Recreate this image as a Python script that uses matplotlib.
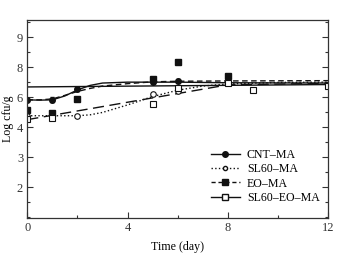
import matplotlib
matplotlib.use("Agg")
import matplotlib.pyplot as plt
from matplotlib.ticker import MultipleLocator

plt.rcParams['font.family'] = ['Liberation Serif', 'DejaVu Serif']

# Measured points (y in axis position units; tick labels below)
days = [0, 1, 2, 5, 6]
cnt_y = [4.93, 4.92, 5.27, 5.52, 5.54]
cnt_err = [0.06, 0.08, 0.04, 0.05, 0.06]

eo_days = [0, 1, 2, 5, 6, 8]
eo_y = [4.58, 4.47, 4.94, 5.61, 6.17, 5.73]

sl_days = [0, 1, 2, 5, 6]
sl_y = [4.39, 4.35, 4.38, 5.10, 5.22]

sleo_days = [0, 1, 5, 6, 8, 9, 12]
sleo_y = [4.28, 4.33, 4.78, 5.33, 5.47, 5.24, 5.38]

# Fitted curves
cnt_fit_x = [0, 0.5, 1, 1.5, 2, 2.5, 3, 4, 6, 8, 12]
cnt_fit_y = [4.92, 4.91, 4.92, 5.05, 5.25, 5.40, 5.48, 5.51, 5.51, 5.49, 5.48]

eo_fit_x = [0, 0.5, 1, 1.5, 2, 2.5, 3, 4, 5, 6, 8, 12]
eo_fit_y = [4.92, 4.92, 4.95, 5.07, 5.20, 5.30, 5.38, 5.46, 5.52, 5.54, 5.55, 5.56]

flat_x = [0, 12]
flat_y = [5.35, 5.43]

sl_fit_x = [0, 1, 2, 2.5, 3, 4, 5, 6, 7, 8, 10, 12]
sl_fit_y = [4.39, 4.39, 4.39, 4.42, 4.50, 4.75, 5.03, 5.24, 5.38, 5.45, 5.50, 5.51]

sleo_fit_x = [0, 8, 12]
sleo_fit_y = [4.26, 5.42, 5.47]

ytick_pos = [2, 3, 4, 5, 6, 7]
ytick_labels = ['2', '3', '4', '6', '8', '9']
xticks = [0, 4, 8, 12]

fig = plt.figure(figsize=(3.44, 2.54), dpi=100)
ax = fig.add_axes([0.0794, 0.1417, 0.8741, 0.7793])

c = '#111111'
# fit lines
ax.plot(flat_x, flat_y, '-', color=c, lw=1.0)
ax.plot(cnt_fit_x, cnt_fit_y, '-', color=c, lw=1.0)
ax.plot(eo_fit_x, eo_fit_y, '--', color=c, lw=1.0, dashes=(4, 2.5))
ax.plot(sl_fit_x, sl_fit_y, ':', color=c, lw=1.0)
ax.plot(sleo_fit_x, sleo_fit_y, '-', color=c, lw=1.0, dashes=(8, 4))

# markers
ax.errorbar(days, cnt_y, yerr=cnt_err, fmt='o', color=c, ms=4, capsize=1.5, elinewidth=0.8)
ax.plot(eo_days, eo_y, 's', color=c, ms=4)
ax.plot(sl_days, sl_y, 'o', mfc='white', mec=c, ms=4, mew=0.8)
ax.plot(sleo_days, sleo_y, 's', mfc='white', mec=c, ms=4, mew=0.8)

# legend handles
h1, = ax.plot([], [], '-o', color=c, ms=4, lw=1.0)
h2, = ax.plot([], [], ':o', color=c, mfc='white', ms=3, lw=1.0)
h3, = ax.plot([], [], '--s', color=c, ms=4, lw=1.0, dashes=(3, 2))
h4, = ax.plot([], [], '-s', color=c, mfc='white', ms=4, lw=1.0)
ax.legend([h1, h2, h3, h4], ['CNT–MA', 'SL60–MA', 'EO–MA', 'SL60–EO–MA'],
          loc='lower right', bbox_to_anchor=(1.0, 0.03), frameon=False,
          fontsize=8.6, handlelength=2.4, handletextpad=0.6, labelspacing=0.18,
          borderaxespad=0.3)

ax.set_xlim(0, 12)
ax.set_ylim(0.98, 7.58)
ax.set_xticks(xticks)
ax.set_xticklabels([str(v) for v in xticks])
ax.xaxis.set_minor_locator(MultipleLocator(2))
ax.set_yticks(ytick_pos)
ax.set_yticklabels(ytick_labels)
ax.yaxis.set_minor_locator(MultipleLocator(0.5))
ax.tick_params(which='both', direction='in', right=True, top=False, labelsize=9, pad=3, colors='#333333')
ax.tick_params(which='major', length=4, width=0.8)
ax.tick_params(which='minor', length=2.5, width=0.8)
for s in ax.spines.values():
    s.set_linewidth(0.9)
    s.set_color('#333333')

ax.set_xlabel('Time (day)', fontsize=8.6, labelpad=5)
ax.set_ylabel('Log cfu/g', fontsize=8.6, labelpad=2)

fig.savefig('out.png', dpi=100)
